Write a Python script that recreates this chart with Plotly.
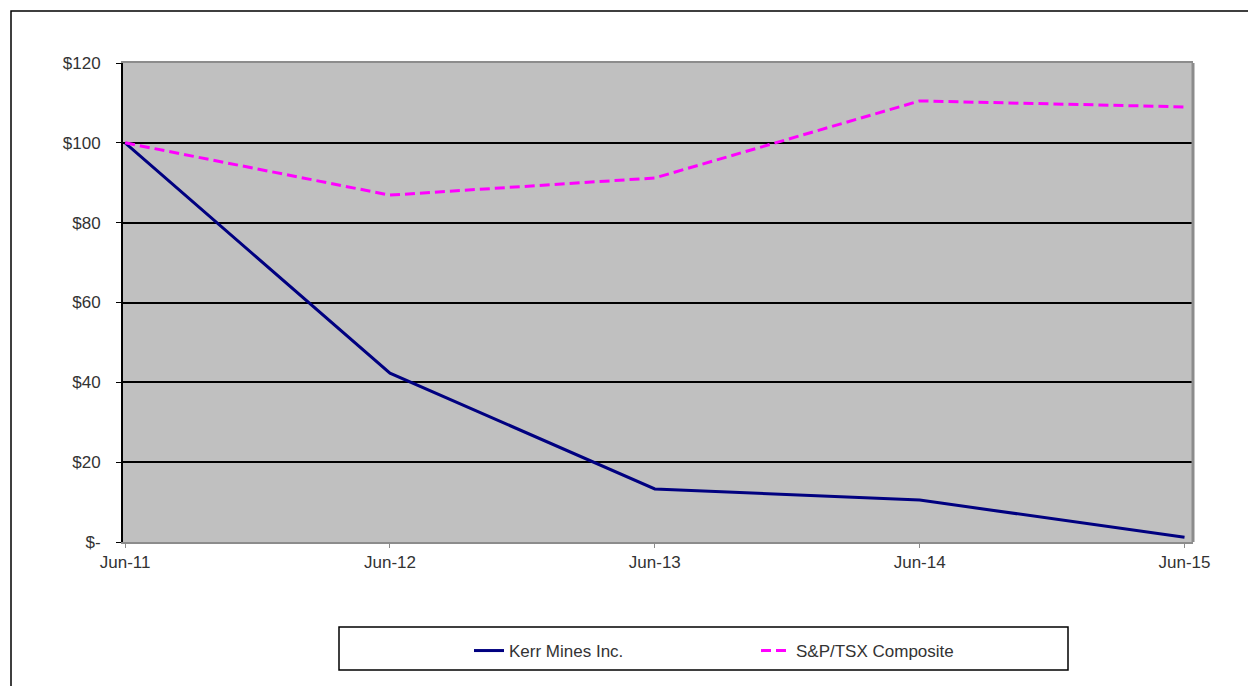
import plotly.graph_objects as go

periods = ["Jun-11", "Jun-12", "Jun-13", "Jun-14", "Jun-15"]
kerr = [100, 42.3, 13.3, 10.5, 1.2]
sptsx = [100, 86.9, 91.2, 110.5, 109.0]
y_ticks = [0, 20, 40, 60, 80, 100, 120]
y_tick_labels = ["$-", "$20", "$40", "$60", "$80", "$100", "$120"]

xpos = list(range(len(periods)))

W, H = 1248, 686
L, R, T, B = 123, 55, 63, 144
pw, ph = W - L - R, H - T - B

def px_x(p):
    return (p - L) / pw

def px_y(p):
    return (H - B - p) / ph

font = dict(family="Liberation Sans, Arial, sans-serif", size=17, color="#333333")

fig = go.Figure()
fig.add_trace(go.Scatter(x=xpos, y=kerr, mode="lines", name="Kerr Mines Inc.",
                         line=dict(color="#000080", width=3)))
fig.add_trace(go.Scatter(x=xpos, y=sptsx, mode="lines", name="S&P/TSX Composite",
                         line=dict(color="#FF00FF", width=3, dash="10px,5px")))

fig.update_layout(
    width=W, height=H,
    margin=dict(l=L, r=R, t=T, b=B, pad=0),
    paper_bgcolor="white",
    plot_bgcolor="#C0C0C0",
    font=font,
    showlegend=True,
    legend=dict(orientation="h", x=px_x(469), xanchor="left", y=px_y(651), yanchor="middle",
                bgcolor="rgba(0,0,0,0)", borderwidth=0, entrywidth=242, entrywidthmode="pixels",
                font=font),
    xaxis=dict(range=[-0.008, 4.032], tickvals=xpos, ticktext=periods,
               showgrid=False, zeroline=False, showline=True, linecolor="#8c8c8c", linewidth=2,
               mirror=True, ticks="outside", ticklen=4, tickcolor="#8c8c8c",
               tickfont=font, fixedrange=True),
    yaxis=dict(range=[0, 120], tickvals=y_ticks, ticktext=y_tick_labels,
               showgrid=True, gridcolor="black", gridwidth=1.5, zeroline=False,
               showline=True, linecolor="black", linewidth=2, ticks="outside", ticklen=5,
               tickcolor="black", tickfont=font, ticklabelstandoff=12, fixedrange=True),
    shapes=[
        dict(type="line", xref="paper", yref="paper", x0=1, x1=1, y0=0, y1=1,
             line=dict(color="#8c8c8c", width=3)),
        dict(type="rect", xref="paper", yref="paper",
             x0=px_x(339), x1=px_x(1068), y0=px_y(670), y1=px_y(627),
             line=dict(color="black", width=1.5), fillcolor="rgba(0,0,0,0)", layer="below"),
        dict(type="rect", xref="paper", yref="paper",
             x0=px_x(11), x1=px_x(1262), y0=px_y(700), y1=px_y(11),
             line=dict(color="black", width=1.5), fillcolor="rgba(0,0,0,0)", layer="below"),
    ],
)

fig.write_html("out.html")
